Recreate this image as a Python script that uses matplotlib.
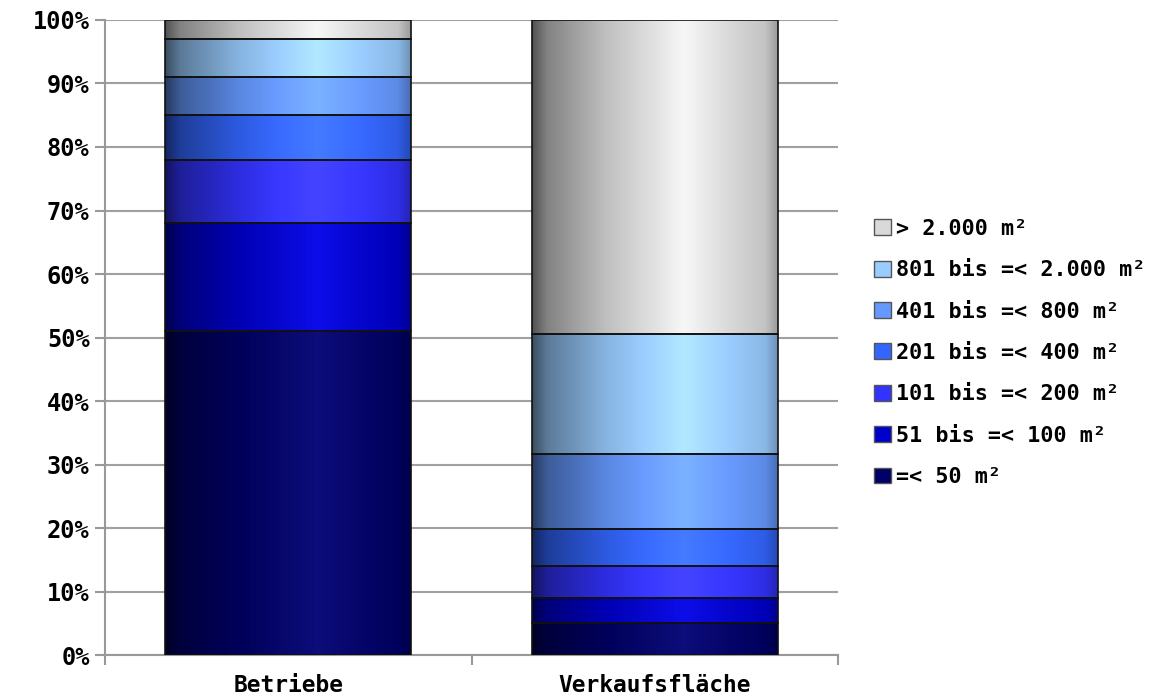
import numpy as np
import matplotlib
matplotlib.use("Agg")
import matplotlib.pyplot as plt
from matplotlib.patches import Patch
from matplotlib.colors import to_rgb

# Daten (Anteile in %)
kategorien = ["Betriebe", "Verkaufsfläche"]
klassen = ["=< 50 m²", "51 bis =< 100 m²", "101 bis =< 200 m²", "201 bis =< 400 m²",
           "401 bis =< 800 m²", "801 bis =< 2.000 m²", "> 2.000 m²"]
betriebe = [51, 17, 10, 7, 6, 6, 3]
verkaufsflaeche = [5, 4, 5, 5.8, 11.9, 18.8, 49.5]
farben = ["#000066", "#0000cc", "#3333ff", "#3366ff", "#6699ff", "#99ccff", "#d9d9d9"]

plt.rcParams['font.family'] = ['DejaVu Sans Mono', 'DejaVu Sans']
plt.rcParams['font.weight'] = 'bold'

fig = plt.figure(figsize=(11.63, 6.99), dpi=100)
ax = fig.add_axes([0.0903, 0.0629, 0.6303, 0.9085])

x = np.arange(len(kategorien))
werte = np.array([betriebe, verkaufsflaeche]).T
unten = np.zeros(len(kategorien))

# Zylinder-Schattierung: Faktor auf die Grundfarbe, dazu etwas Glanz
tp = [0.0, 0.06, 0.3, 0.62, 0.8, 0.95, 1.0]
fp = [0.38, 0.6, 0.88, 1.08, 0.98, 0.9, 0.72]
gp = [0.0, 0.0, 0.0, 0.05, 0.02, 0.0, 0.0]
t = np.linspace(0, 1, 200)
f = np.interp(t, tp, fp)
g = np.interp(t, tp, gp)

def verlauf(farbe):
    c = np.array(to_rgb(farbe))
    img = c[None, None, :] * f[None, :, None] + g[None, :, None]
    return np.clip(img, 0, 1)

for k in range(len(klassen)):
    bars = ax.bar(x, werte[k], 0.67, bottom=unten, facecolor="none",
                  edgecolor="#111111", linewidth=1.2, zorder=4)
    for b in bars:
        x0, y0 = b.get_x(), b.get_y()
        ax.imshow(verlauf(farben[k]), extent=[x0, x0 + b.get_width(), y0, y0 + b.get_height()],
                  aspect="auto", zorder=3, interpolation="bilinear")
    unten += werte[k]

ax.set_xlim(-0.5, 1.5)
ax.set_ylim(0, 100)
ax.set_yticks(np.arange(0, 101, 10))
ax.set_yticklabels([f"{v}%" for v in range(0, 101, 10)], fontsize=17, fontweight="bold")
ax.set_xticks(x)
ax.set_xticklabels(kategorien, fontsize=16.5, fontweight="bold")
ax.tick_params(axis="x", length=0, pad=14)
ax.tick_params(axis="y", length=7, color="#999999", width=1.5, pad=4)
ax.set_xticks([-0.5, 0.5, 1.5], minor=True)
ax.tick_params(axis="x", which="minor", length=7, color="#999999", width=1.5)

ax.grid(axis="y", color="#a0a0a0", linewidth=1.5, zorder=0)
ax.set_axisbelow(True)
for sp_name in ["top", "right"]:
    ax.spines[sp_name].set_visible(False)
for sp_name in ["left", "bottom"]:
    ax.spines[sp_name].set_color("#999999")
    ax.spines[sp_name].set_linewidth(1.5)

handles = [Patch(facecolor=farben[k], edgecolor="#555555", label=klassen[k])
           for k in range(len(klassen))][::-1]
fig.legend(handles=handles, loc="center left", bbox_to_anchor=(0.735, 0.495),
           frameon=False, prop={"size": 15.7, "weight": "bold"},
           handlelength=0.75, handleheight=0.75, handletextpad=0.25, labelspacing=0.98)

fig.savefig("out.png", dpi=100)
